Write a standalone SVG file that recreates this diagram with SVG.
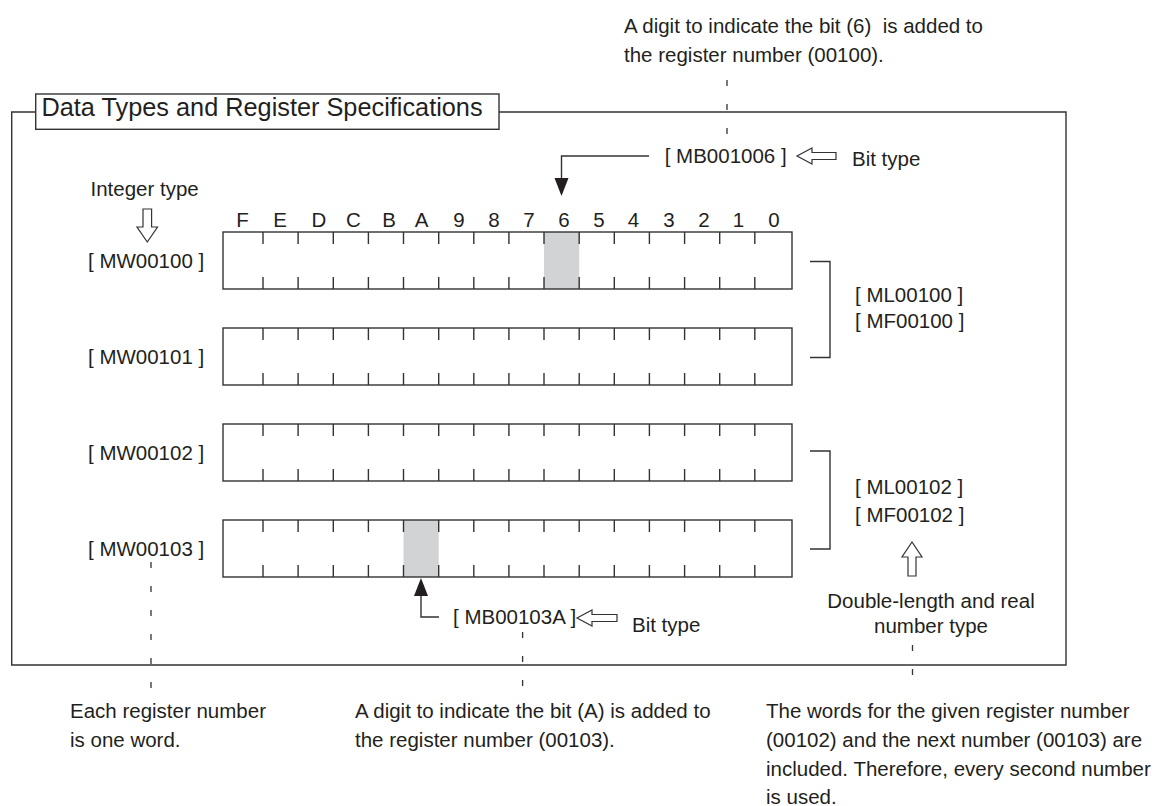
<svg xmlns="http://www.w3.org/2000/svg" xmlns:xlink="http://www.w3.org/1999/xlink" width="1156" height="806" viewBox="0 0 1156 806">
<style>
.ln{stroke:#333;stroke-width:1.4;fill:none}
.box{stroke:#333;stroke-width:1.4;fill:#fff}
.hol{stroke:#333;stroke-width:1.2;fill:#fff;stroke-linejoin:miter}
.fil{fill:#231f20;stroke:none}
.dash{stroke:#333;stroke-width:1.3;stroke-dasharray:6 18;fill:none}
.shade{fill:#d1d3d4;stroke:none}
text{font-family:"Liberation Sans",Arial,Helvetica,sans-serif;font-size:20.5px;fill:#231f20}
.title{font-size:25.3px}
.mid{text-anchor:middle}
</style>
<defs>
<path id="ticks" class="ln" d="M263 0v12M263 57v-12M298.1 0v12M298.1 57v-12M333.3 0v12M333.3 57v-12M368.4 0v12M368.4 57v-12M403.5 0v12M403.5 57v-12M438.7 0v12M438.7 57v-12M473.8 0v12M473.8 57v-12M508.9 0v12M508.9 57v-12M544 0v12M544 57v-12M579.2 0v12M579.2 57v-12M614.3 0v12M614.3 57v-12M649.4 0v12M649.4 57v-12M684.6 0v12M684.6 57v-12M719.7 0v12M719.7 57v-12M754.8 0v12M754.8 57v-12"/>
</defs>
<rect width="1156" height="806" fill="#fff"/>

<g id="frame">
<path class="ln" d="M35.7 112H11.7V665H1066V112H499"/>
<rect class="box" x="35.7" y="94" width="463.3" height="35.3"/>
<text class="title" x="41.5" y="116">Data Types and Register Specifications</text>
</g>

<g id="note-top">
<text x="624" y="33">A digit to indicate the bit (6)&#160; is added to</text>
<text x="624" y="62">the register number (00100).</text>
</g>

<g id="bit-labels">
<text class="mid" x="242.5" y="226.7">F</text>
<text class="mid" x="280" y="226.7">E</text>
<text class="mid" x="319" y="226.7">D</text>
<text class="mid" x="353.5" y="226.7">C</text>
<text class="mid" x="389" y="226.7">B</text>
<text class="mid" x="421.7" y="226.7">A</text>
<text class="mid" x="459" y="226.7">9</text>
<text class="mid" x="494" y="226.7">8</text>
<text class="mid" x="529" y="226.7">7</text>
<text class="mid" x="564" y="226.7">6</text>
<text class="mid" x="599" y="226.7">5</text>
<text class="mid" x="633.5" y="226.7">4</text>
<text class="mid" x="669" y="226.7">3</text>
<text class="mid" x="704" y="226.7">2</text>
<text class="mid" x="738.5" y="226.7">1</text>
<text class="mid" x="774" y="226.7">0</text>
</g>

<g id="integer-type">
<text x="90.5" y="196">Integer type</text>
<polygon class="hol" points="143,209 151.6,209 151.6,227 157.5,227 147.3,242 137,227 143,227"/>
</g>

<g id="reg-MW00100">
<rect class="shade" x="544" y="232" width="35.2" height="57"/>
<rect class="ln" x="223" y="232" width="569" height="57"/>
<use xlink:href="#ticks" href="#ticks" y="232"/>
<text x="88" y="268">[ MW00100 ]</text>
</g>

<g id="reg-MW00101">
<rect class="ln" x="223" y="328" width="569" height="57"/>
<use xlink:href="#ticks" href="#ticks" y="328"/>
<text x="88" y="364">[ MW00101 ]</text>
</g>

<g id="reg-MW00102">
<rect class="ln" x="223" y="424" width="569" height="57"/>
<use xlink:href="#ticks" href="#ticks" y="424"/>
<text x="88" y="460">[ MW00102 ]</text>
</g>

<g id="reg-MW00103">
<rect class="shade" x="403.5" y="520" width="35.2" height="57"/>
<rect class="ln" x="223" y="520" width="569" height="57"/>
<use xlink:href="#ticks" href="#ticks" y="520"/>
<text x="88" y="556">[ MW00103 ]</text>
</g>

<g id="ML00100">
<path class="ln" d="M810 261.5H830V357.5H810"/>
<text x="855" y="302">[ ML00100 ]</text>
<text x="855" y="328">[ MF00100 ]</text>
</g>

<g id="ML00102">
<path class="ln" d="M810 451H830V549H810"/>
<text x="855" y="493.5">[ ML00102 ]</text>
<text x="855" y="522">[ MF00102 ]</text>
</g>

<g id="double-type">
<polygon class="hol" points="908,576 916,576 916,557 922,557 912,542 902,557 908,557"/>
<text class="mid" x="931" y="608">Double-length and real</text>
<text class="mid" x="931" y="633">number type</text>
</g>

<g id="MB001006">
<text x="664.7" y="163">[ MB001006 ]</text>
<polygon class="hol" points="797,156 812,148 812,152.5 836,152.5 836,159.5 812,159.5 812,164"/>
<text x="852" y="166">Bit type</text>
</g>

<g id="MB00103A">
<text x="453" y="624">[ MB00103A ]</text>
<polygon class="hol" points="577,618 592,610 592,614.5 617,614.5 617,621.5 592,621.5 592,626"/>
<text x="632" y="632">Bit type</text>
</g>

<g id="connectors">
<path class="ln" d="M649 156H561.5V179"/>
<polygon class="fil" points="554.5,178 568.5,178 561.5,196"/>
<path class="ln" d="M439 617H421V595"/>
<polygon class="fil" points="414,596 428,596 421,578"/>
<line class="dash" x1="727" y1="80" x2="727" y2="134"/>
<line class="dash" x1="151" y1="562" x2="151" y2="692"/>
<line class="dash" x1="522.6" y1="632" x2="522.6" y2="692"/>
<line class="dash" x1="912.5" y1="645" x2="912.5" y2="692"/>
</g>

<g id="note-bottom-left">
<text x="70" y="718">Each register number</text>
<text x="70" y="747">is one word.</text>
</g>
<g id="note-bottom-mid">
<text x="355" y="718">A digit to indicate the bit (A) is added to</text>
<text x="355" y="747">the register number (00103).</text>
</g>
<g id="note-bottom-right">
<text x="766" y="718">The words for the given register number</text>
<text x="766" y="747">(00102) and the next number (00103) are</text>
<text x="766" y="776">included. Therefore, every second number</text>
<text x="766" y="804">is used.</text>
</g>
</svg>
